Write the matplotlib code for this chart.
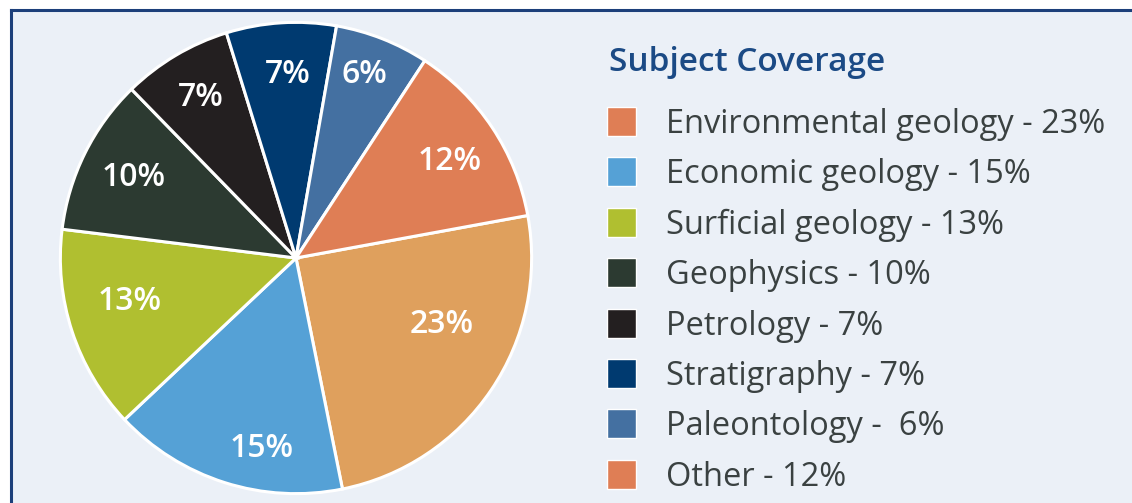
import numpy as np
import matplotlib
matplotlib.use("Agg")
import matplotlib.pyplot as plt
from matplotlib.patches import Rectangle

# slice values, clockwise from the 23% slice (shares do not add to 100, pie normalises)
slice_pcts = [23, 15, 13, 10, 7, 7, 6, 12]
slice_colors = ["#DFA05D", "#55A1D6", "#B0BF30", "#2C3A31",
                "#231F20", "#003A70", "#4470A1", "#DF7E55"]

legend_labels = ["Environmental geology - 23%", "Economic geology - 15%",
                 "Surficial geology - 13%", "Geophysics - 10%", "Petrology - 7%",
                 "Stratigraphy - 7%", "Paleontology -  6%", "Other - 12%"]
legend_colors = ["#DF7E55", "#55A1D6", "#B0BF30", "#2C3A31",
                 "#231F20", "#003A70", "#4470A1", "#DF7E55"]

# hand placement of the in-slice labels (radius fraction, angle nudge in deg)
lbl_r = [0.68, 0.82, 0.73, 0.77, 0.79, 0.78, 0.83, 0.77]
lbl_dang = [9.5, 7.5, -3.5, 0, 0, -1, 1, -1.5]

W, H = 1132, 503
bg = "#EBF0F7"
font = "Open Sans"
fig = plt.figure(figsize=(W / 100, H / 100), dpi=100)
fig.patch.set_facecolor("white")

# panel with dark blue top/left border
fig.patches.append(Rectangle((11 / W, 0), 1, (H - 10) / H, transform=fig.transFigure,
                             facecolor=bg, edgecolor="none", zorder=-5))
fig.add_artist(plt.Line2D([11 / W, 1], [(H - 10) / H] * 2, color="#1C3F7A", lw=2.2,
                          transform=fig.transFigure))
fig.add_artist(plt.Line2D([11 / W] * 2, [0, (H - 10) / H], color="#1C3F7A", lw=2.2,
                          transform=fig.transFigure))

cx, cy, R = 296, 258, 238
ax = fig.add_axes([(cx - R) / W, (H - cy - R) / H, 2 * R / W, 2 * R / H])
ax.set_facecolor("none")
wedges, _ = ax.pie(slice_pcts, colors=slice_colors, startangle=10.4, counterclock=False,
                   wedgeprops=dict(edgecolor="white", linewidth=2.2))
ax.set_xlim(-1.01, 1.01)
ax.set_ylim(-1.01, 1.01)
ax.set_aspect("equal")
ax.axis("off")

for w, p, r, da in zip(wedges, slice_pcts, lbl_r, lbl_dang):
    mid = np.deg2rad((w.theta1 + w.theta2) / 2 + da)
    ax.text(r * np.cos(mid), r * np.sin(mid), f"{p}%", color="white", fontsize=23,
            fontweight="semibold", family=font, ha="center", va="center")

# legend drawn in pixel coordinates
lg = fig.add_axes([0, 0, 1, 1])
lg.set_xlim(0, W)
lg.set_ylim(H, 0)
lg.axis("off")
lg.patch.set_alpha(0)
lg.text(609, 71, "Subject Coverage", color="#1B4A85", fontsize=24, fontweight="semibold",
        family=font, ha="left", va="baseline")
y0, dy = 121.5, 50.4
for i, (lab, col) in enumerate(zip(legend_labels, legend_colors)):
    y = y0 + i * dy
    lg.add_patch(Rectangle((607, y - 14.5), 29, 29, facecolor=col, edgecolor="white", lw=1))
    lg.text(666, y + 11.5, lab, color="#3A4141", fontsize=23.5, family=font,
            ha="left", va="baseline")

fig.savefig("out.png", dpi=100, facecolor=fig.get_facecolor())
